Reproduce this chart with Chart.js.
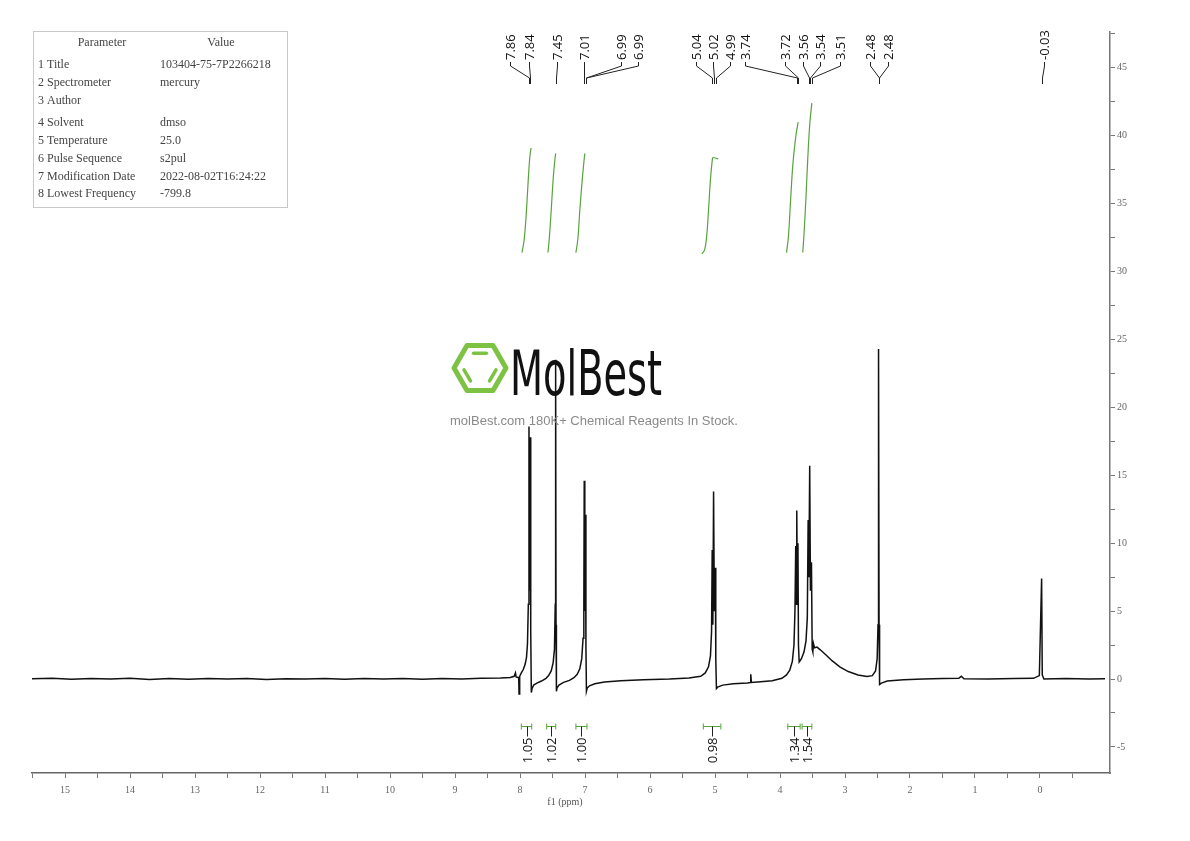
<!DOCTYPE html>
<html>
<head>
<meta charset="utf-8">
<script src="https://cdn.jsdelivr.net/npm/chart.js@4.4.0/dist/chart.umd.min.js"></script>
<style>
html, body { margin: 0; padding: 0; background: #fff; }
#wrap { width: 1190px; height: 841px; }
</style>
</head>
<body>
<div id="wrap"><canvas id="nmr" width="1190" height="841"></canvas></div>
<script>
// --- DATA ---
// spectrum trace (ppm / intensity)
const spectrumPpm = [
  15.51, 15.2, 14.9, 14.6, 14.3, 14.0, 13.7, 13.4, 13.1, 12.8, 12.5, 12.2, 11.9, 11.6, 11.3, 11.0,
  10.7, 10.4, 10.1, 9.8, 9.5, 9.2, 8.9, 8.6, 8.3, 8.15, 8.09, 8.07, 8.06, 8.02, 8.015, 8.005,
  7.98, 7.95, 7.92, 7.90, 7.885, 7.872, 7.862, 7.853, 7.842, 7.835, 7.826, 7.815, 7.79, 7.74, 7.67,
  7.60, 7.56, 7.52, 7.49, 7.47, 7.458, 7.452, 7.446, 7.44, 7.43, 7.40, 7.33, 7.24, 7.17, 7.12,
  7.08, 7.05, 7.03, 7.018, 7.012, 7.003, 6.993, 6.986, 6.978, 6.965, 6.93, 6.85, 6.70, 6.45, 6.10,
  5.70, 5.40, 5.22, 5.15, 5.10, 5.07, 5.053, 5.043, 5.033, 5.022, 5.010, 4.995, 4.988, 4.978, 4.96,
  4.88, 4.72, 4.50, 4.455, 4.45, 4.44, 4.30, 4.12, 3.97, 3.90, 3.85, 3.81, 3.785, 3.77, 3.758, 3.75,
  3.742, 3.733, 3.724, 3.716, 3.705, 3.67, 3.63, 3.60, 3.58, 3.567, 3.556, 3.543, 3.532, 3.516,
  3.505, 3.495, 3.485, 3.47, 3.43, 3.38, 3.30, 3.20, 3.08, 2.95, 2.80, 2.66, 2.58, 2.53, 2.505,
  2.492, 2.484, 2.476, 2.468, 2.44, 2.35, 2.10, 1.80, 1.50, 1.25, 1.21, 1.17, 0.80, 0.40, 0.10,
  0.01, -0.025, -0.035, -0.06, -0.40, -0.75, -1.0
];
const spectrumInt = [
  0.02, 0.05, -0.02, 0.04, 0.0, 0.05, -0.03, 0.03, -0.01, 0.04, 0.0, 0.03, -0.03, 0.02, 0.0, 0.04,
  -0.02, 0.03, 0.0, 0.04, -0.01, 0.03, 0.0, 0.05, 0.08, 0.12, 0.2, 0.45, 0.15, 0.1, -1.1, 0.2,
  0.45, 0.7, 1.1, 1.6, 2.6, 5.5, 18.6, 6.5, 17.8, 3.5, -1.0, -0.7, -0.45, -0.3, -0.15,
  0.05, 0.25, 0.6, 1.2, 2.2, 5.5, 23.5, 4.0, -0.9, -0.65, -0.45, -0.25, -0.1, 0.1, 0.35,
  0.75, 1.5, 3.0, 5.5, 14.6, 5.0, 12.1, 2.5, -0.9, -0.65, -0.5, -0.35, -0.22, -0.12, -0.06,
  0.0, 0.08, 0.2, 0.45, 0.9, 1.7, 3.5, 9.5, 4.0, 13.8, 5.0, 8.2, 1.5, -0.7, -0.6,
  -0.45, -0.35, -0.3, -0.25, 0.35, -0.25, -0.2, -0.12, 0.05, 0.3, 0.65, 1.3, 2.5, 5.0, 9.8, 5.5,
  12.4, 6.0, 10.0, 2.5, 1.25, 1.5, 2.0, 2.8, 4.5, 11.7, 7.5, 15.7, 6.5, 8.6,
  2.2, 2.0, 2.6, 2.3, 2.35, 2.15, 1.8, 1.35, 0.9, 0.55, 0.3, 0.18, 0.25, 0.6, 1.5,
  4.0, 24.3, 4.0, -0.4, -0.3, -0.15, -0.05, 0.0, 0.03, 0.05, 0.2, 0.02, 0.0, 0.04, 0.05,
  0.25, 7.4, 0.3, 0.0, 0.03, 0.0, 0.02
];

// picked peaks
const peakLabels = ['7.86', '7.84', '7.45', '7.01', '6.99', '6.99', '5.04', '5.02', '4.99',
  '3.74', '3.72', '3.56', '3.54', '3.51', '2.48', '2.48', '-0.03'];
const peakPpm = [7.86, 7.84, 7.45, 7.01, 6.99, 6.99, 5.04, 5.02, 4.99,
  3.74, 3.72, 3.56, 3.54, 3.51, 2.48, 2.48, -0.03];

// integrals
const integralLabels = ['1.05', '1.02', '1.00', '0.98', '1.34', '1.54'];
const integralFrom = [7.98, 7.59, 7.14, 5.18, 3.88, 3.66];
const integralTo = [7.82, 7.45, 6.97, 4.91, 3.69, 3.51];
const integralCurvePpm = [
  [7.97, 7.94, 7.91, 7.88, 7.85, 7.83],
  [7.57, 7.55, 7.52, 7.49, 7.46, 7.45],
  [7.14, 7.11, 7.08, 7.04, 7.01, 7.00],
  [5.20, 5.16, 5.13, 5.10, 5.07, 5.04, 5.03, 4.95],
  [3.90, 3.87, 3.84, 3.80, 3.75, 3.72],
  [3.65, 3.63, 3.60, 3.57, 3.54, 3.51]
];
const integralCurveVal = [
  [31.4, 32.2, 33.8, 36.2, 38.4, 39.1],
  [31.4, 32.4, 34.5, 36.8, 38.4, 38.7],
  [31.4, 32.4, 34.5, 36.9, 38.4, 38.7],
  [31.3, 31.6, 32.5, 34.5, 36.8, 38.3, 38.4, 38.3],
  [31.4, 32.6, 35.0, 38.0, 40.2, 41.0],
  [31.4, 32.8, 35.5, 38.6, 41.0, 42.4]
];

// axis ticks
const xTickValues = [15, 14, 13, 12, 11, 10, 9, 8, 7, 6, 5, 4, 3, 2, 1, 0];
const yTickValues = [-5, 0, 5, 10, 15, 20, 25, 30, 35, 40, 45];

// parameter table
const paramNames = ['1 Title', '2 Spectrometer', '3 Author', '4 Solvent', '5 Temperature',
  '6 Pulse Sequence', '7 Modification Date', '8 Lowest Frequency'];
const paramValues = ['103404-75-7P2266218', 'mercury', '', 'dmso', '25.0', 's2pul',
  '2022-08-02T16:24:22', '-799.8'];

// --- LAYOUT ---
// where the peak labels sit along the axis (ppm), spread like the original
const peakLabelSlot = [8.154, 7.862, 7.431, 7.015, 6.446, 6.185, 5.292, 5.031, 4.769,
  4.538, 3.923, 3.646, 3.385, 3.077, 2.615, 2.338, -0.062];
const GREEN = '#58a23e';
const BRACKET_LEVEL = -3.45;
const SERIF = '"Liberation Serif", "DejaVu Serif", serif';

// --- PLUGINS ---
const peakLabelPlugin = {
  id: 'peakLabels',
  afterDraw(chart) {
    const { ctx, scales: { x } } = chart;
    ctx.save();
    ctx.strokeStyle = '#222';
    ctx.lineWidth = 1;
    ctx.fillStyle = '#111';
    ctx.font = '13px "Open Sans", "DejaVu Sans", sans-serif';
    peakLabels.forEach((txt, i) => {
      const lx = Math.round(x.getPixelForValue(peakLabelSlot[i])) + 0.5;
      const px = Math.round(x.getPixelForValue(peakPpm[i])) + 0.5;
      ctx.beginPath();
      ctx.moveTo(lx, 62);
      ctx.lineTo(lx, 66);
      ctx.lineTo(px, 78);
      ctx.lineTo(px, 84);
      ctx.stroke();
      ctx.save();
      ctx.translate(lx + 1, 60);
      ctx.rotate(-Math.PI / 2);
      ctx.textAlign = 'left';
      ctx.textBaseline = 'middle';
      ctx.fillText(txt, 0, 0);
      ctx.restore();
    });
    ctx.restore();
  }
};

const integralPlugin = {
  id: 'integralBrackets',
  afterDraw(chart) {
    const { ctx, scales: { x, y } } = chart;
    const by = Math.round(y.getPixelForValue(BRACKET_LEVEL)) + 0.5;
    ctx.save();
    ctx.lineWidth = 1;
    integralLabels.forEach((txt, i) => {
      const x1 = x.getPixelForValue(integralFrom[i]);
      const x2 = x.getPixelForValue(integralTo[i]);
      const cx = Math.round((x1 + x2) / 2) + 0.5;
      ctx.strokeStyle = GREEN;
      ctx.beginPath();
      ctx.moveTo(x1, by); ctx.lineTo(x2, by);
      ctx.moveTo(x1, by - 3); ctx.lineTo(x1, by + 3);
      ctx.moveTo(x2, by - 3); ctx.lineTo(x2, by + 3);
      ctx.stroke();
      ctx.strokeStyle = '#222';
      ctx.beginPath();
      ctx.moveTo(cx, by); ctx.lineTo(cx, by + 10);
      ctx.stroke();
      ctx.save();
      ctx.translate(cx + 1, by + 11);
      ctx.rotate(-Math.PI / 2);
      ctx.fillStyle = '#111';
      ctx.font = '13px "Open Sans", "DejaVu Sans", sans-serif';
      ctx.textAlign = 'right';
      ctx.textBaseline = 'middle';
      ctx.fillText(txt, 0, 0);
      ctx.restore();
    });
    ctx.restore();
  }
};

const tablePlugin = {
  id: 'paramTable',
  afterDraw(chart) {
    const ctx = chart.ctx;
    ctx.save();
    ctx.strokeStyle = '#c8c8c8';
    ctx.lineWidth = 1;
    ctx.strokeRect(33.5, 31.5, 254, 176);
    ctx.fillStyle = '#444';
    ctx.font = '12px ' + SERIF;
    ctx.textBaseline = 'middle';
    ctx.textAlign = 'center';
    ctx.fillText('Parameter', 102, 43);
    ctx.fillText('Value', 221, 43);
    ctx.textAlign = 'left';
    const rowY = [65, 83, 101, 123, 141, 159, 177, 194];
    paramNames.forEach((n, i) => {
      ctx.fillText(n, 38, rowY[i]);
      ctx.fillText(paramValues[i], 160, rowY[i]);
    });
    ctx.restore();
  }
};

const watermarkPlugin = {
  id: 'watermark',
  afterDraw(chart) {
    const ctx = chart.ctx;
    ctx.save();
    // hexagon logo
    const cx = 480, cy = 368, r = 26;
    const pt = (rad, a) => [cx + rad * Math.cos(a * Math.PI / 180), cy + rad * Math.sin(a * Math.PI / 180)];
    ctx.strokeStyle = '#7dc242';
    ctx.lineWidth = 5;
    ctx.lineJoin = 'round';
    ctx.lineCap = 'round';
    ctx.beginPath();
    for (let k = 0; k < 6; k++) {
      const [px, py] = pt(r, k * 60);
      if (k === 0) ctx.moveTo(px, py); else ctx.lineTo(px, py);
    }
    ctx.closePath();
    ctx.stroke();
    ctx.lineWidth = 3.5;
    [[240, 300], [120, 180], [0, 60]].forEach(([a1, a2]) => {
      const [ax, ay] = pt(r - 9, a1);
      const [bx, by] = pt(r - 9, a2);
      const sx = ax + (bx - ax) * 0.12, sy = ay + (by - ay) * 0.12;
      const ex = ax + (bx - ax) * 0.88, ey = ay + (by - ay) * 0.88;
      ctx.beginPath(); ctx.moveTo(sx, sy); ctx.lineTo(ex, ey); ctx.stroke();
    });
    // MolBest wordmark, condensed
    ctx.fillStyle = '#111';
    ctx.font = '62px "DejaVu Sans", sans-serif';
    ctx.textBaseline = 'alphabetic';
    const w = ctx.measureText('MolBest').width;
    ctx.save();
    ctx.translate(510, 395);
    ctx.scale(152 / w, 1);
    ctx.fillText('MolBest', 0, 0);
    ctx.restore();
    // tagline
    ctx.fillStyle = '#8a8a8a';
    ctx.font = '13px "Liberation Sans", Arial, sans-serif';
    ctx.textAlign = 'center';
    ctx.textBaseline = 'middle';
    ctx.fillText('molBest.com 180K+ Chemical Reagents In Stock.', 594, 421);
    // axis title
    ctx.fillStyle = '#555';
    ctx.font = '10px ' + SERIF;
    ctx.fillText('f1 (ppm)', 565, 802);
    ctx.restore();
  }
};

// --- CHART ---
const spectrumPoints = spectrumPpm.map((p, i) => ({ x: p, y: spectrumInt[i] }));
const integralSets = integralCurvePpm.map((ps, k) => ({
  data: ps.map((p, i) => ({ x: p, y: integralCurveVal[k][i] })),
  borderColor: GREEN, borderWidth: 1.2, pointRadius: 0, tension: 0.4, fill: false
}));

const xMinor = xTickValues.map(v => v + 0.5).concat([-0.5]);
const yMinor = yTickValues.map(v => v + 2.5);

new Chart(document.getElementById('nmr'), {
  type: 'line',
  data: {
    datasets: [
      { data: spectrumPoints, borderColor: '#111', borderWidth: 1.5, pointRadius: 0, tension: 0, fill: false },
      ...integralSets
    ]
  },
  options: {
    responsive: false,
    animation: false,
    layout: { padding: { left: 32, top: 32, right: 0, bottom: 0 } },
    plugins: { legend: { display: false }, tooltip: { enabled: false } },
    scales: {
      x: {
        type: 'linear', reverse: true, min: -1.077, max: 15.508,
        afterBuildTicks: s => { s.ticks = xTickValues.concat(xMinor).sort((a, b) => b - a).map(v => ({ value: v })); },
        afterFit: s => { s.height = 68; },
        ticks: {
          autoSkip: false, maxRotation: 0, padding: 6, color: '#666',
          font: { family: SERIF, size: 10 },
          callback: v => xTickValues.includes(v) ? String(v) : ''
        },
        grid: { drawOnChartArea: false, drawTicks: true, tickLength: 5, color: '#777' },
        border: { display: true, color: '#666', width: 1.5 }
      },
      y: {
        type: 'linear', position: 'right', min: -6.92, max: 47.64,
        afterBuildTicks: s => { s.ticks = yTickValues.concat(yMinor).sort((a, b) => a - b).map(v => ({ value: v })); },
        afterFit: s => { s.width = 80; },
        ticks: {
          autoSkip: false, padding: 2, color: '#666',
          font: { family: SERIF, size: 10 },
          callback: v => yTickValues.includes(v) ? String(v) : ''
        },
        grid: { drawOnChartArea: false, drawTicks: true, tickLength: 5, color: '#777' },
        border: { display: true, color: '#777', width: 1.5 }
      }
    }
  },
  plugins: [peakLabelPlugin, integralPlugin, tablePlugin, watermarkPlugin]
});
</script>
</body>
</html>
